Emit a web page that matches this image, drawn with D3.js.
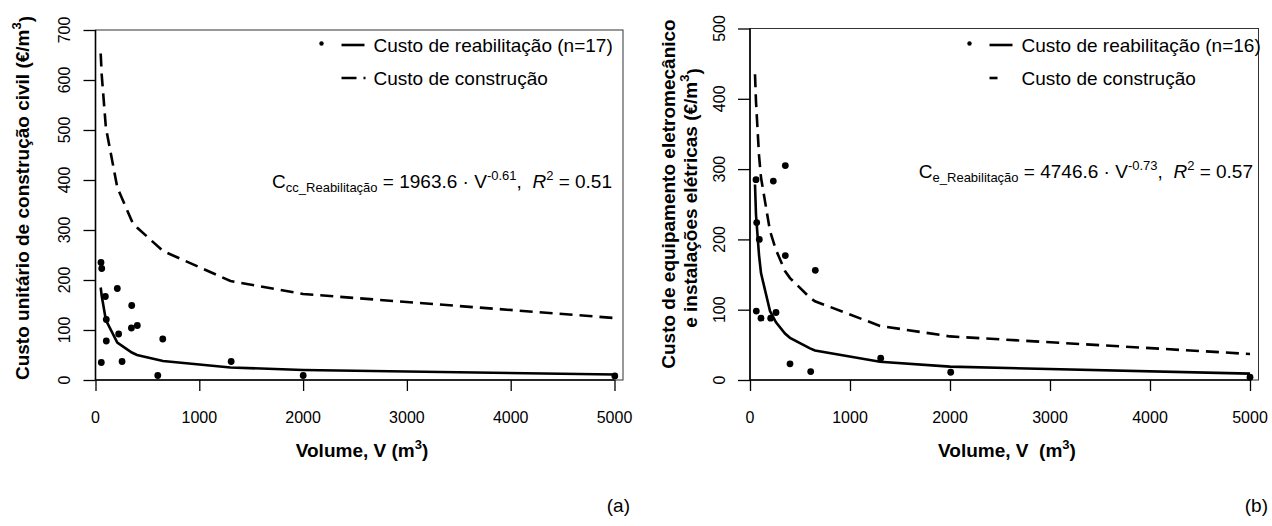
<!DOCTYPE html>
<html>
<head>
<meta charset="utf-8">
<script src="https://cdn.jsdelivr.net/npm/d3@7"></script>
<style>
  body { margin: 0; background: #fff; }
  svg { font-family: "Liberation Sans", Arial, sans-serif; }
  .tick-label { font-size: 16px; }
  .title { font-size: 19px; font-weight: bold; }
  .legend, .eq { font-size: 19px; }
</style>
</head>
<body>
<svg width="1272" height="526"></svg>
<script>
// tick values
var xTicks = [0, 1000, 2000, 3000, 4000, 5000];
var yTicksA = [0, 100, 200, 300, 400, 500, 600, 700];
var yTicksB = [0, 100, 200, 300, 400, 500];

// panel (a) - construcao civil, rehab points
var volPtsA = [53, 60, 95, 104, 104, 56, 210, 223, 256, 349, 346, 403, 600, 648, 1307, 2001, 5003];
var costPtsA = [235, 223, 167, 121, 78, 35, 183, 92, 37, 149, 104, 109, 9, 82, 37, 9, 8];
// panel (a) curves
var curveVolA = [50, 60, 100, 210, 350, 400, 650, 1300, 2000, 5000];
var rehabA = [185, 168, 120, 75, 55, 50, 38, 25, 20, 11];
var buildA = [653, 610, 505, 385, 318, 305, 258, 198, 172, 124];

// panel (b) - equipamento eletromecanico
var volPtsB = [60, 233, 353, 67, 93, 353, 653, 63, 110, 207, 260, 400, 607, 1307, 2007, 5000];
var costPtsB = [285, 283, 305, 224, 200, 177, 156, 98, 88, 88, 96, 23, 12, 31, 11, 4];
var curveVolB = [50, 60, 90, 110, 200, 260, 350, 400, 600, 650, 1300, 2000, 5000];
var rehabB = [278, 235, 178, 152, 98, 82, 66, 60, 45, 42, 26, 19, 9];
var buildB = [435, 396, 320, 288, 212, 185, 155, 145, 117, 112, 77, 62, 37];

var svg = d3.select("svg");
var NB = "\u00A0";

function drawPanel(p) {
    var x = d3.scaleLinear().domain([0, p.xMax]).range([p.left, p.right]);
    var y = d3.scaleLinear().domain([0, p.yMax]).range([p.bottom, p.top]);
    var g = svg.append("g");

    // box
    g.append("rect")
        .attr("x", p.left).attr("y", p.top)
        .attr("width", p.right - p.left).attr("height", p.bottom - p.top)
        .attr("fill", "none").attr("stroke", "#333").attr("stroke-width", 1);

    // axes
    var xAxis = g.append("g")
        .attr("transform", "translate(0," + p.bottom + ")")
        .call(d3.axisBottom(x).tickValues(xTicks).tickSize(11).tickSizeOuter(0).tickFormat(""));
    var yAxis = g.append("g")
        .attr("transform", "translate(" + p.left + ",0)")
        .call(d3.axisLeft(y).tickValues(p.yTicks).tickSize(12).tickSizeOuter(0).tickFormat(""));
    [xAxis, yAxis].forEach(function (a) {
        a.select(".domain").remove();
        a.selectAll("line").attr("stroke", "#000").attr("stroke-width", 1.3);
    });
    // axis lines from first to last tick
    g.append("line")
        .attr("x1", x(0)).attr("x2", x(5000)).attr("y1", p.bottom).attr("y2", p.bottom)
        .attr("stroke", "#000").attr("stroke-width", 1.6);
    g.append("line")
        .attr("x1", p.left).attr("x2", p.left).attr("y1", y(0)).attr("y2", y(p.yMax))
        .attr("stroke", "#000").attr("stroke-width", 1.6);

    g.selectAll(".xl").data(xTicks).enter().append("text")
        .attr("class", "tick-label")
        .attr("x", function (d) { return x(d); })
        .attr("y", p.bottom + 43)
        .attr("text-anchor", "middle")
        .text(function (d) { return d; });

    g.selectAll(".yl").data(p.yTicks).enter().append("text")
        .attr("class", "tick-label")
        .attr("transform", function (d) { return "translate(" + p.yLabelX + "," + y(d) + ") rotate(-90)"; })
        .attr("dy", "0.35em")
        .attr("text-anchor", "middle")
        .text(function (d) { return d; });

    // curves
    var line = d3.line()
        .x(function (d) { return x(d[0]); })
        .y(function (d) { return y(d[1]); });
    g.append("path")
        .datum(d3.zip(p.curveVol, p.build))
        .attr("d", line)
        .attr("fill", "none").attr("stroke", "#000").attr("stroke-width", 2.6)
        .attr("stroke-dasharray", "13,7");
    g.append("path")
        .datum(d3.zip(p.curveVol, p.rehab))
        .attr("d", line)
        .attr("fill", "none").attr("stroke", "#000").attr("stroke-width", 2.6);

    // points
    g.selectAll(".pt").data(d3.zip(p.volPts, p.costPts)).enter().append("circle")
        .attr("cx", function (d) { return x(d[0]); })
        .attr("cy", function (d) { return y(d[1]); })
        .attr("r", 3.4)
        .attr("fill", "#000");

    // legend
    var lg = g.append("g");
    lg.append("circle").attr("cx", p.legX).attr("cy", 43.5).attr("r", 2.2).attr("fill", "#000");
    lg.append("line").attr("x1", p.legX + 20).attr("x2", p.legX + 43).attr("y1", 45).attr("y2", 45)
        .attr("stroke", "#000").attr("stroke-width", 2.6);
    lg.append("line").attr("x1", p.legX + 20).attr("x2", p.legX + 20 + p.legDash).attr("y1", 78).attr("y2", 78)
        .attr("stroke", "#000").attr("stroke-width", 2.6).attr("stroke-dasharray", "15,7");
    lg.append("text").attr("class", "legend").attr("x", p.legX + 52).attr("y", 45).attr("dy", "0.35em")
        .text(p.legText1);
    lg.append("text").attr("class", "legend").attr("x", p.legX + 52).attr("y", 78).attr("dy", "0.35em")
        .text("Custo de construção");

    // equation
    var eq = g.append("text").attr("class", "eq")
        .attr("x", p.eqX).attr("y", p.eqY).attr("text-anchor", "end");
    eq.append("tspan").text("C");
    eq.append("tspan").attr("font-size", "13px").attr("dy", 4).text(p.eqSub);
    eq.append("tspan").attr("dy", -4).text(NB + "=" + NB + p.eqCoef + NB + "\u00B7" + NB + "V");
    eq.append("tspan").attr("font-size", "13px").attr("dy", -8).text(p.eqExp);
    eq.append("tspan").attr("dy", 8).text("," + NB + NB);
    eq.append("tspan").attr("font-style", "italic").text("R");
    eq.append("tspan").attr("font-size", "13px").attr("dy", -8).text("2");
    eq.append("tspan").attr("dy", 8).text(NB + "=" + NB + p.eqR2);

    // x title
    var xt = g.append("text").attr("class", "title")
        .attr("x", p.xTitleX).attr("y", 457).attr("text-anchor", "middle");
    xt.append("tspan").text(p.xTitle + "(m");
    xt.append("tspan").attr("font-size", "13px").attr("dy", -8).text("3");
    xt.append("tspan").attr("dy", 8).text(")");

    // panel label
    g.append("text").attr("x", p.tagX).attr("y", 512).attr("text-anchor", "end")
        .attr("font-size", "19px").text(p.tag);

    return g;
}

function yTitle(textMain, cx, cy) {
    var t = svg.append("text").attr("class", "title")
        .attr("transform", "translate(" + cx + "," + cy + ") rotate(-90)")
        .attr("dy", "0.35em").attr("text-anchor", "middle");
    t.append("tspan").text(textMain);
    return t;
}

drawPanel({
    left: 95.5, right: 623, top: 30, bottom: 380, xMax: 5082, yMax: 700,
    yTicks: yTicksA, yLabelX: 64.5,
    volPts: volPtsA, costPts: costPtsA, curveVol: curveVolA, rehab: rehabA, build: buildA,
    legX: 321.5, legDash: 24, legText1: "Custo de reabilitação (n=17)",
    eqX: 612, eqY: 188, eqSub: "cc_Reabilitação", eqCoef: "1963.6", eqExp: "-0.61", eqR2: "0.51",
    xTitleX: 362, xTitle: "Volume, V" + NB, tagX: 630, tag: "(a)"
});

drawPanel({
    left: 750, right: 1258.5, top: 28.5, bottom: 380, xMax: 5085, yMax: 500,
    yTicks: yTicksB, yLabelX: 719,
    volPts: volPtsB, costPts: costPtsB, curveVol: curveVolB, rehab: rehabB, build: buildB,
    legX: 969.5, legDash: 8, legText1: "Custo de reabilitação (n=16)",
    eqX: 1253, eqY: 178, eqSub: "e_Reabilitação", eqCoef: "4746.6", eqExp: "-0.73", eqR2: "0.57",
    xTitleX: 1007, xTitle: "Volume, V" + NB + NB, tagX: 1268, tag: "(b)"
});

// y titles
var tA = yTitle("Custo unitário de construção civil (€/m", 22, 198);
tA.append("tspan").attr("font-size", "13px").attr("dy", "-0.6em").text("3");
tA.append("tspan").attr("dy", "0.6em").text(")");

yTitle("Custo de equipamento eletromecânico", 668, 194);
var tB = yTitle("e instalações elétricas (€/m", 690, 198);
tB.append("tspan").attr("font-size", "13px").attr("dy", "-0.6em").text("3");
tB.append("tspan").attr("dy", "0.6em").text(")");
</script>
</body>
</html>
